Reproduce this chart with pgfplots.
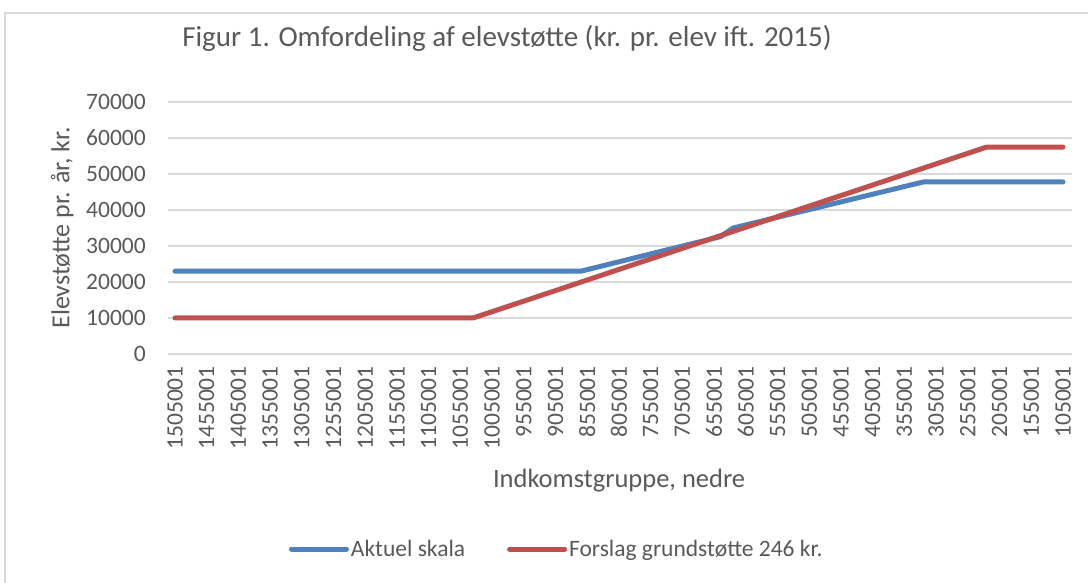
\documentclass[border=0pt]{standalone}
\usepackage{pgfplots}
\pgfplotsset{compat=1.18}
\usepackage{fontspec}
\setmainfont{Carlito}
\definecolor{blueline}{HTML}{4F81BD}
\definecolor{redline}{HTML}{C0504D}
\definecolor{gridc}{HTML}{D9D9D9}
\definecolor{txt}{HTML}{595959}

\pgfplotstableread{
x y
1505001 23000
865001 23000
645001 32600
625001 35000
325001 47800
105001 47800
}\aktuel
\pgfplotstableread{
x y
1505001 10000
1035001 10000
225001 57500
105001 57500
}\forslag

\begin{document}
\begin{tikzpicture}
\useasboundingbox (0,0) rectangle (1088bp,583bp);
\draw[gridc, line width=1.5bp] (5bp,-20bp) -- (5bp,570bp) -- (1100bp,570bp);
\begin{axis}[
  at={(168bp,229bp)}, anchor=south west,
  scale only axis, width=904bp, height=252bp,
  x dir=reverse, xmin=90800, xmax=1516000,
  ymin=0, ymax=70000, ytick={0,10000,20000,30000,40000,50000,60000,70000},
  scaled ticks=false,
  ymajorgrids, grid style={gridc, line width=1.5bp},
  axis line style={draw=none},
  major tick length=0pt,
  /pgf/number format/1000 sep={},
  /pgf/number format/assume math mode=true,
  xtick={1505001,1455001,1405001,1355001,1305001,1255001,1205001,1155001,1105001,1055001,1005001,955001,905001,855001,805001,755001,705001,655001,605001,555001,505001,455001,405001,355001,305001,255001,205001,155001,105001},
  xticklabels={1505001,1455001,1405001,1355001,1305001,1255001,1205001,1155001,1105001,1055001,1005001,955001,905001,855001,805001,755001,705001,655001,605001,555001,505001,455001,405001,355001,305001,255001,205001,155001,105001},
  tick label style={font=\fontsize{23.5bp}{28bp}\selectfont, text=txt, inner sep=0pt},
  xticklabel style={rotate=90, anchor=east, xshift=-12bp},
  yticklabel style={anchor=east, xshift=-22bp},
  xlabel={Indkomstgruppe, nedre},
  ylabel={Elevstøtte pr. år, kr.},
  xlabel style={at={(axis description cs:0.499,-0.504)}, anchor=center, font=\fontsize{26.5bp}{30bp}\selectfont, text=txt},
  ylabel style={at={(axis description cs:-0.117,0.5)}, anchor=center, font=\fontsize{26bp}{30bp}\selectfont, text=txt},
  title={Figur 1. Omfordeling af elevstøtte (kr. pr. elev ift. 2015)},
  title style={at={(axis description cs:0.375,1.228)}, anchor=center, font=\fontsize{29bp}{33bp}\selectfont, text=txt},
  legend style={at={(axis description cs:0.43,-0.774)}, anchor=center, draw=none, fill=none,
    legend columns=2, font=\fontsize{23.5bp}{28bp}\selectfont, text=txt,
    /tikz/every even column/.append style={column sep=40bp}},
  legend cell align=left,
  legend image code/.code={\draw[#1, line width=5bp, line cap=round] (0bp,0bp) -- (55bp,0bp);},
]
\addplot[blueline, line width=5bp, line cap=round, line join=round] table[x=x,y=y] {\aktuel};
\addlegendentry{Aktuel skala}
\addplot[redline, line width=5bp, line cap=round, line join=round] table[x=x,y=y] {\forslag};
\addlegendentry{Forslag grundstøtte 246 kr.}
\end{axis}
\end{tikzpicture}
\end{document}
